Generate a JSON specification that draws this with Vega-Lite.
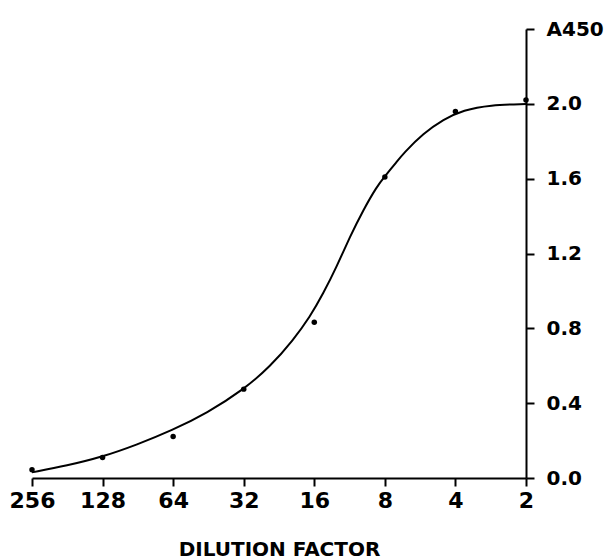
{
  "$schema": "https://vega.github.io/schema/vega-lite/v6.json",
  "width": 494,
  "height": 449,
  "autosize": "none",
  "padding": {"left": 32, "top": 29, "right": 83, "bottom": 82},
  "background": "white",
  "config": {
    "view": {"stroke": null},
    "axis": {
      "grid": false,
      "domainColor": "black",
      "tickColor": "black",
      "labelColor": "black",
      "titleColor": "black",
      "labelFont": "DejaVu Sans",
      "titleFont": "DejaVu Sans",
      "labelFontWeight": "bold",
      "titleFontWeight": "bold",
      "domainWidth": 2,
      "tickWidth": 2
    }
  },
  "datasets": {
    "points": [
      {"dilution": 256, "a450": 0.044},
      {"dilution": 128, "a450": 0.11},
      {"dilution": 64, "a450": 0.222},
      {"dilution": 32, "a450": 0.475},
      {"dilution": 16, "a450": 0.832},
      {"dilution": 8, "a450": 1.609},
      {"dilution": 4, "a450": 1.959},
      {"dilution": 2, "a450": 2.021}
    ],
    "curve": [
      {"dilution": 256, "a450": 0.03},
      {"dilution": 181.6, "a450": 0.066},
      {"dilution": 128, "a450": 0.113},
      {"dilution": 91.3, "a450": 0.178},
      {"dilution": 64.8, "a450": 0.254},
      {"dilution": 45.9, "a450": 0.347},
      {"dilution": 32, "a450": 0.473},
      {"dilution": 24.7, "a450": 0.595},
      {"dilution": 19.66, "a450": 0.738},
      {"dilution": 16.69, "a450": 0.862},
      {"dilution": 14.64, "a450": 0.987},
      {"dilution": 12.84, "a450": 1.13},
      {"dilution": 11.27, "a450": 1.29},
      {"dilution": 9.88, "a450": 1.433},
      {"dilution": 8.67, "a450": 1.557},
      {"dilution": 8, "a450": 1.612},
      {"dilution": 7.12, "a450": 1.69},
      {"dilution": 6.66, "a450": 1.736},
      {"dilution": 5.48, "a450": 1.842},
      {"dilution": 4.5, "a450": 1.917},
      {"dilution": 3.7, "a450": 1.967},
      {"dilution": 2.85, "a450": 1.994},
      {"dilution": 2, "a450": 1.999}
    ]
  },
  "layer": [
    {
      "data": {"name": "curve"},
      "mark": {"type": "line", "interpolate": "basis", "color": "black", "strokeWidth": 2},
      "encoding": {
        "x": {
          "field": "dilution",
          "type": "quantitative",
          "scale": {"type": "log", "base": 2, "domain": [2, 256], "reverse": true, "nice": false},
          "axis": {
            "values": [256, 128, 64, 32, 16, 8, 4, 2],
            "format": "d",
            "labelFontSize": 22,
            "tickSize": 8,
            "labelPadding": 4,
            "labelFlush": false,
            "labelOverlap": false,
            "title": "DILUTION FACTOR",
            "titleFontSize": 20,
            "titlePadding": 28
          }
        },
        "y": {
          "field": "a450",
          "type": "quantitative",
          "scale": {"domain": [0, 2.4], "nice": false, "zero": true},
          "axis": {
            "orient": "right",
            "values": [0, 0.4, 0.8, 1.2, 1.6, 2.0, 2.4],
            "labelExpr": "datum.value > 2.3 ? 'A450' : format(datum.value, '.1f')",
            "labelFontSize": 20,
            "tickSize": 8,
            "labelPadding": 12,
            "labelFlush": false,
            "labelOverlap": false,
            "title": null,
            "encode": {"labels": {"update": {"dy": {"signal": "datum.value > 2.3 ? -7 : 0"}}}}
          }
        }
      }
    },
    {
      "data": {"name": "points"},
      "mark": {"type": "circle", "size": 30, "color": "black", "opacity": 1},
      "encoding": {
        "x": {"field": "dilution", "type": "quantitative"},
        "y": {"field": "a450", "type": "quantitative"}
      }
    }
  ]
}
